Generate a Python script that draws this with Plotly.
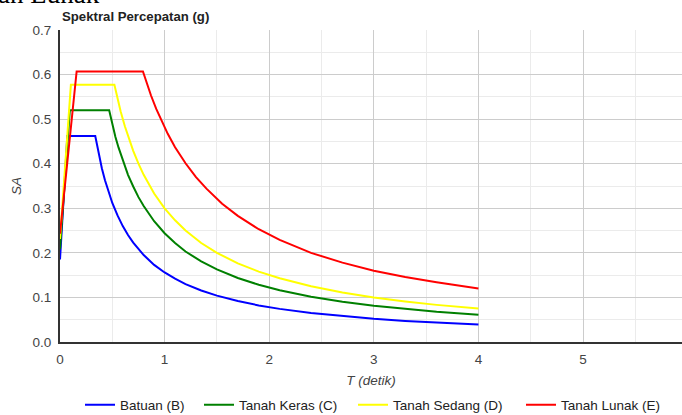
import plotly.graph_objects as go

# ---- data ----
series_names = ["Batuan (B)", "Tanah Keras (C)", "Tanah Sedang (D)", "Tanah Lunak (E)"]

t_b = [0, 0.07, 0.337, 0.36, 0.38, 0.40, 0.43, 0.46, 0.50, 0.55, 0.60, 0.65, 0.70, 0.80, 0.90,
       1.0, 1.1, 1.2, 1.35, 1.5, 1.7, 1.9, 2.1, 2.4, 2.7, 3.0, 3.3, 3.6, 4.0]
sa_b = [0.185, 0.462, 0.462, 0.433, 0.41, 0.39, 0.363, 0.339, 0.312, 0.284, 0.26, 0.24, 0.223, 0.195, 0.173,
        0.156, 0.142, 0.13, 0.1156, 0.104, 0.0918, 0.0821, 0.0743, 0.065, 0.0578, 0.052, 0.0473, 0.0433, 0.039]

t_c = [0, 0.094, 0.47, 0.50, 0.53, 0.56, 0.60, 0.65, 0.70, 0.75, 0.80, 0.90, 1.0, 1.1, 1.2, 1.35,
       1.5, 1.7, 1.9, 2.1, 2.4, 2.7, 3.0, 3.3, 3.6, 4.0]
sa_c = [0.208, 0.52, 0.52, 0.488, 0.460, 0.436, 0.407, 0.375, 0.349, 0.325, 0.305, 0.271, 0.244, 0.222, 0.203, 0.181,
        0.163, 0.1435, 0.1284, 0.1162, 0.1017, 0.0904, 0.0813, 0.0739, 0.0678, 0.061]

t_d = [0, 0.104, 0.52, 0.55, 0.58, 0.62, 0.66, 0.70, 0.75, 0.80, 0.90, 1.0, 1.1, 1.2, 1.35, 1.5,
       1.7, 1.9, 2.1, 2.4, 2.7, 3.0, 3.3, 3.6, 4.0]
sa_d = [0.231, 0.577, 0.577, 0.545, 0.517, 0.484, 0.455, 0.429, 0.40, 0.375, 0.333, 0.30, 0.273, 0.25, 0.222, 0.20,
        0.1765, 0.158, 0.143, 0.125, 0.111, 0.10, 0.0909, 0.0833, 0.075]

t_e = [0, 0.159, 0.793, 0.83, 0.87, 0.92, 0.97, 1.03, 1.1, 1.2, 1.3, 1.4, 1.55, 1.7, 1.9, 2.1,
       2.4, 2.7, 3.0, 3.3, 3.6, 4.0]
sa_e = [0.243, 0.607, 0.607, 0.580, 0.553, 0.523, 0.496, 0.467, 0.437, 0.401, 0.370, 0.344, 0.310, 0.283, 0.253, 0.229,
        0.200, 0.178, 0.160, 0.146, 0.134, 0.120]

x_ticks = [0, 1, 2, 3, 4, 5]
y_ticks = [0.0, 0.1, 0.2, 0.3, 0.4, 0.5, 0.6, 0.7]

colors = ["#0000ff", "#008000", "#ffff00", "#ff0000"]

W, H = 682, 415
ml, mr, mt, mb = 60, 0, 30, 73
plot_h = H - mt - mb
plot_w = W - ml - mr

# pixel x of each legend block (left edge)
legend_px = [80, 199, 353, 521]
legend_ids = ["legend", "legend2", "legend3", "legend4"]

fig = go.Figure()
for name, t, sa, c, lid in zip(series_names, [t_b, t_c, t_d, t_e], [sa_b, sa_c, sa_d, sa_e], colors, legend_ids):
    fig.add_trace(go.Scatter(x=t, y=sa, mode="lines", name=name, legend=lid,
                             line=dict(color=c, width=2)))

tickfont = dict(family="Liberation Sans, Arial, sans-serif", size=13.5, color="#444")

legend_y = -(405 - (H - mb)) / plot_h
legends = {}
for lid, px in zip(legend_ids, legend_px):
    legends[lid] = dict(orientation="h", x=(px - ml) / plot_w, xanchor="left",
                        y=legend_y, yanchor="middle",
                        font=dict(size=13.5, color="#222"), itemwidth=30,
                        bgcolor="rgba(0,0,0,0)")

fig.update_layout(
    width=W, height=H,
    margin=dict(l=ml, r=mr, t=mt, b=mb, autoexpand=False),
    paper_bgcolor="white", plot_bgcolor="white",
    font=dict(family="Liberation Sans, Arial, sans-serif", size=12, color="#222"),
    showlegend=True,
    xaxis=dict(range=[0, 5.946], tickvals=x_ticks, ticktext=[str(v) for v in x_ticks],
               automargin=False,
               showgrid=True, gridcolor="#cccccc", gridwidth=1,
               minor=dict(dtick=0.5, showgrid=True, gridcolor="#ebebeb"),
               zeroline=False, showline=True, linecolor="#333", linewidth=2,
               ticks="outside", ticklen=4, tickcolor="rgba(0,0,0,0)",
               tickfont=tickfont,
               title=dict(text="<i>T (detik)</i>", font=dict(size=13.5, color="#444"), standoff=9)),
    yaxis=dict(range=[0, 0.7], tickvals=y_ticks, ticktext=["%.1f" % v for v in y_ticks],
               automargin=False,
               showgrid=True, gridcolor="#cccccc", gridwidth=1,
               minor=dict(dtick=0.05, showgrid=True, gridcolor="#ebebeb"),
               zeroline=False, showline=True, linecolor="#333", linewidth=2,
               ticks="outside", ticklen=4, tickcolor="rgba(0,0,0,0)",
               tickfont=tickfont,
               title=dict(text="<i>SA</i>", font=dict(size=13.5, color="#444"), standoff=8)),
    **legends,
)

fig.add_annotation(text="<b>Spektral Percepatan (g)</b>", xref="paper", yref="paper",
                   x=0, y=1 + (mt - 16.5) / plot_h, xanchor="left", yanchor="middle",
                   showarrow=False, font=dict(size=13.2, color="#222"))

fig.add_annotation(text="an Lunak", xref="paper", yref="paper",
                   x=-(ml + 3) / plot_w, y=1 + (mt - 10.5) / plot_h, xanchor="left", yanchor="bottom",
                   showarrow=False, borderpad=0,
                   font=dict(family="Liberation Serif, Times New Roman, serif", size=27, color="#000"))

fig.write_html("out.html", config={"displayModeBar": False},
               post_script="document.body.style.margin='0';document.body.style.overflow='hidden';")
